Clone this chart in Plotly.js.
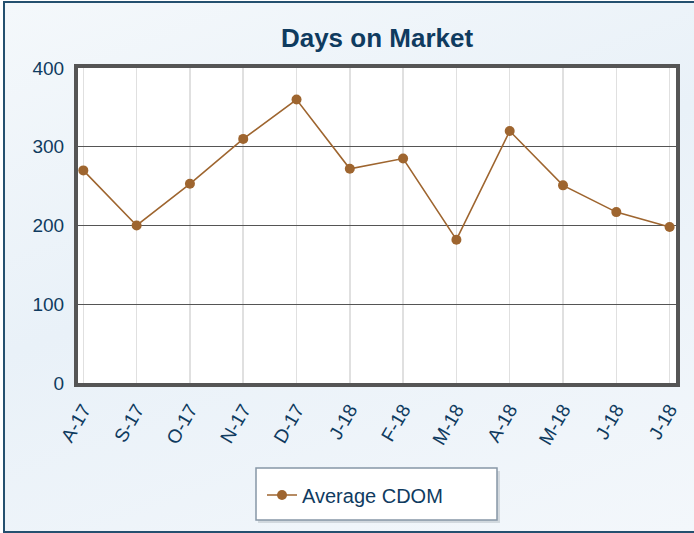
<!DOCTYPE html>
<html>
<head>
<meta charset="utf-8">
<script src="https://cdn.plot.ly/plotly-3.0.1.min.js"></script>
<style>
  html, body { margin: 0; padding: 0; width: 694px; height: 533px; overflow: hidden; background: #ffffff; }
  #frame {
    position: absolute; left: 3px; top: 1px; width: 691px; height: 528px;
    border-top: 2px solid #24506f; border-left: 2px solid #24506f; border-bottom: 2px solid #24506f;
    background: linear-gradient(160deg, #f4f8fb 0%, #e9f1f8 45%, #f3f7fb 100%);
  }
  #chart { position: absolute; left: 0; top: 0; width: 694px; height: 533px; }
</style>
</head>
<body>
<div id="frame"></div>
<div id="chart"></div>
<script>
const months = ["A-17", "S-17", "O-17", "N-17", "D-17", "J-18", "F-18", "M-18", "A-18", "M-18", "J-18", "J-18"];
const cdom = [270, 200, 253, 310, 360, 272, 285, 182, 320, 251, 217, 198];
const yTicks = [0, 100, 200, 300, 400];
const seriesName = "Average CDOM";
const chartTitle = "Days on Market";

const idx = months.map((_, i) => i);
const textColor = "#0f3b5f";
const lineColor = "#9e652f";

const W = 694, H = 533;
const mL = 78, mR = 18, mT = 68, mB = 150;
const pw = W - mL - mR, ph = H - mT - mB;
const px = v => (v - mL) / pw;
const py = v => (H - mB - v) / ph;

const trace = {
  x: idx,
  y: cdom,
  type: "scatter",
  mode: "lines+markers",
  name: seriesName,
  line: { color: lineColor, width: 1.6 },
  marker: { color: lineColor, size: 10 },
  showlegend: true,
  hoverinfo: "x+y"
};

const layout = {
  width: W, height: H,
  margin: { l: mL, r: mR, t: mT, b: mB, pad: 0 },
  paper_bgcolor: "rgba(0,0,0,0)",
  plot_bgcolor: "#ffffff",
  font: { family: "Liberation Sans, Arial, sans-serif", color: textColor, size: 19 },
  title: {
    text: "<b>" + chartTitle + "</b>",
    font: { family: "Liberation Sans, Arial, sans-serif", size: 26, color: textColor },
    xref: "paper", x: 0.5, xanchor: "center", y: 1 - 38 / H, yanchor: "middle"
  },
  xaxis: {
    range: [-0.1, 11.12],
    tickmode: "array",
    tickvals: idx,
    ticktext: months,
    tickangle: -60,
    showgrid: true,
    gridcolor: "#e0e0e0",
    gridwidth: 1.5,
    showline: true,
    linecolor: "#555555",
    linewidth: 4,
    mirror: true,
    ticks: "outside",
    ticklen: 4,
    tickcolor: "rgba(0,0,0,0)",
    zeroline: false,
    tickfont: { size: 19, color: textColor },
    fixedrange: true
  },
  yaxis: {
    range: [0, 400],
    tickmode: "array",
    tickvals: yTicks,
    ticktext: yTicks.map(String),
    showgrid: true,
    gridcolor: "#555555",
    gridwidth: 1,
    showline: true,
    linecolor: "#555555",
    linewidth: 4,
    mirror: true,
    ticks: "outside",
    ticklen: 6,
    tickcolor: "rgba(0,0,0,0)",
    zeroline: false,
    tickfont: { size: 19, color: textColor },
    fixedrange: true
  },
  showlegend: true,
  legend: {
    x: px(262), xanchor: "left",
    y: py(495), yanchor: "middle",
    bgcolor: "rgba(0,0,0,0)",
    borderwidth: 0,
    font: { size: 20, color: textColor }
  },
  shapes: [
    { type: "rect", xref: "paper", yref: "paper", layer: "below",
      x0: px(258), x1: px(500), y0: py(471), y1: py(523),
      fillcolor: "rgba(120,130,140,0.25)", line: { width: 0 } },
    { type: "rect", xref: "paper", yref: "paper", layer: "below",
      x0: px(256), x1: px(497), y0: py(468), y1: py(520),
      fillcolor: "#ffffff", line: { color: "#8797a6", width: 1.5 } }
  ]
};

Plotly.newPlot("chart", [trace], layout, { displayModeBar: false, staticPlot: true });
</script>
</body>
</html>
